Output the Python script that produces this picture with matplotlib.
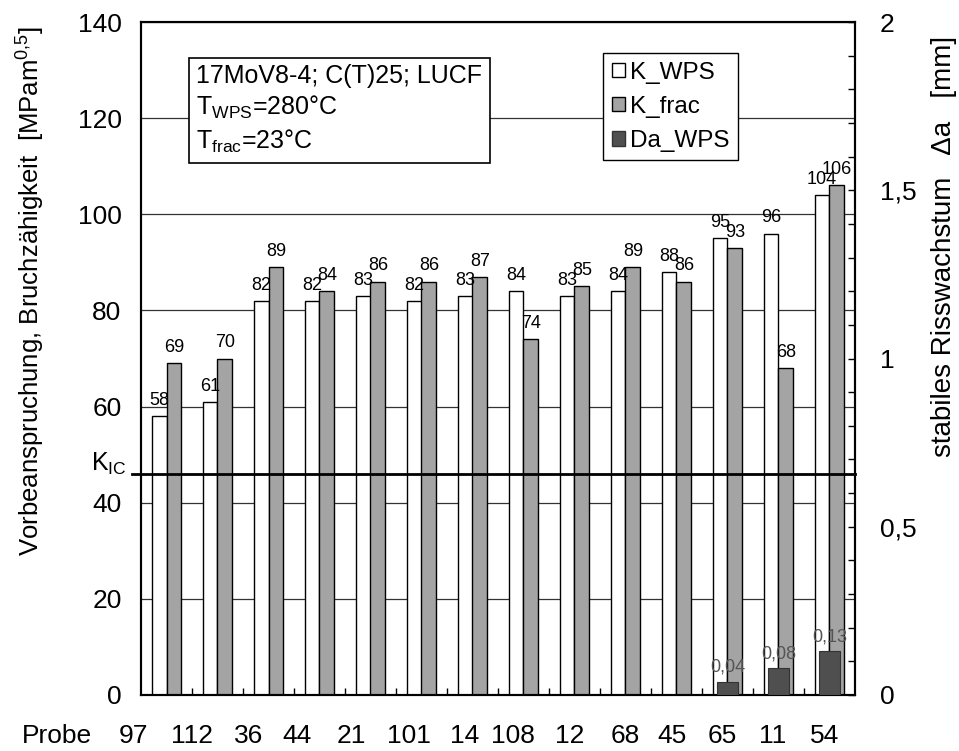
import matplotlib
matplotlib.use("Agg")
import matplotlib.pyplot as plt
import numpy as np
from matplotlib.patches import Patch
from matplotlib.ticker import MultipleLocator, FuncFormatter

plt.rcParams['font.family'] = ['Liberation Sans', 'DejaVu Sans']
plt.rcParams['mathtext.fontset'] = 'custom'
plt.rcParams['mathtext.rm'] = 'Liberation Sans'
plt.rcParams['mathtext.it'] = 'Liberation Sans:italic'
plt.rcParams['mathtext.default'] = 'regular'

# ---------------- data ----------------
probes = ["97", "112", "36", "44", "21", "101", "14", "108", "12", "68", "45", "65", "11", "54"]
k_wps = [58, 61, 82, 82, 83, 82, 83, 84, 83, 84, 88, 95, 96, 104]
k_frac = [69, 70, 89, 84, 86, 86, 87, 74, 85, 89, 86, 93, 68, 106]
da_wps = [0, 0, 0, 0, 0, 0, 0, 0, 0, 0, 0, 0.04, 0.08, 0.13]
k_ic = 46
series_names = ["K_WPS", "K_frac", "Da_WPS"]

# label x positions (pixels) of the hand-set Probe row
probe_label_px = [134, 192, 249, 297, 351, 409, 465, 513, 570, 625, 672, 722, 773, 825]

W, H = 959, 751
fig = plt.figure(figsize=(W / 100, H / 100), dpi=100)
L, R, B, T = 141, 855, 695, 22
ax = fig.add_axes([L / W, 1 - B / H, (R - L) / W, (B - T) / H])
ax2 = ax.twinx()

n = len(probes)
centers = np.arange(n) + 0.5
bw = 0.29
dw = 0.41

c_white = 'white'
c_gray = '#a4a4a4'
c_dark = '#4f4f4f'

ax.set_xlim(0, n)
ax.set_ylim(0, 140)
ax2.set_ylim(0, 2)

# grid
ax.set_yticks(np.arange(0, 141, 20))
ax.yaxis.grid(True, color='#333333', linewidth=0.9)
ax.set_axisbelow(True)

ax.bar(centers - bw / 2, k_wps, width=bw, color=c_white, edgecolor='black', linewidth=1.0, zorder=2)
ax.bar(centers + bw / 2, k_frac, width=bw, color=c_gray, edgecolor='black', linewidth=1.0, zorder=2)

for x, v in zip(centers - bw / 2, k_wps):
    ax.annotate(f"{v}", (x, v), xytext=(0, 8), textcoords='offset points',
                ha='center', va='baseline', fontsize=13, zorder=5)
for x, v in zip(centers + bw / 2, k_frac):
    ax.annotate(f"{v}", (x, v), xytext=(0, 8), textcoords='offset points',
                ha='center', va='baseline', fontsize=13, zorder=5)

# K_IC line
ax.plot([-0.18, n], [k_ic, k_ic], color='black', linewidth=2.0, zorder=4, clip_on=False)
ax.text(-0.02, k_ic - 0.6, "K$_{IC}$", transform=ax.get_yaxis_transform(),
        ha='right', va='bottom', fontsize=18)

# secondary bars
ax2.bar(centers, da_wps, width=dw, color=c_dark, edgecolor='#333333', linewidth=0.8, zorder=3)
for x, v in zip(centers, da_wps):
    if v > 0:
        ax2.annotate(f"{v:.2f}".replace('.', ','), (x, v), xytext=(0, 7), textcoords='offset points',
                     ha='center', va='baseline', fontsize=13, color='#555555')

# axes styling
for a in (ax, ax2):
    for s in a.spines.values():
        s.set_linewidth(1.5)
        s.set_color('black')

ax.set_xticks(np.arange(1, n))
ax.tick_params(axis='x', direction='in', length=5, width=1, labelbottom=False)
ax.tick_params(axis='y', length=0, labelsize=19, pad=14)

ax2.yaxis.set_major_locator(MultipleLocator(0.5))
ax2.yaxis.set_minor_locator(MultipleLocator(0.1))
ax2.yaxis.set_major_formatter(FuncFormatter(lambda v, p: (f"{v:g}").replace('.', ',')))
ax2.tick_params(axis='y', which='both', direction='in', length=5, width=1, labelsize=19, pad=18)

ax.set_ylabel("Vorbeanspruchung, Bruchzähigkeit  [MPam$^{0{,}5}$]", fontsize=18.5)
ax.yaxis.set_label_coords(-0.132, 0.60)
ax2.set_ylabel("stabiles Risswachstum   Δa   [mm]", fontsize=20)
ax2.yaxis.set_label_coords(1.106, 0.666)

# Probe row
fig.text(57 / W, 1 - 743 / H, "Probe", ha='center', va='baseline', fontsize=19)
for px, lab in zip(probe_label_px, probes):
    fig.text(px / W, 1 - 743 / H, lab, ha='center', va='baseline', fontsize=19)

# info box
ax2.text(196 / W, 1 - 64 / H,
         "17MoV8-4; C(T)25; LUCF\nT$_{WPS}$=280°C\nT$_{frac}$=23°C",
         transform=fig.transFigure, ha='left', va='top', fontsize=18, linespacing=1.3,
         bbox=dict(boxstyle='square,pad=0.3', facecolor='white', edgecolor='black', linewidth=1.2),
         zorder=10)

handles = [Patch(facecolor=c_white, edgecolor='black', linewidth=1.0),
           Patch(facecolor=c_gray, edgecolor='black', linewidth=1.0),
           Patch(facecolor=c_dark, edgecolor='#333333', linewidth=1.0)]
leg = ax2.legend(handles, series_names, loc='upper left', bbox_to_anchor=(603 / W, 1 - 53 / H),
                 bbox_transform=fig.transFigure, fontsize=17.5, frameon=True, fancybox=False,
                 framealpha=1, edgecolor='black', handlelength=0.55, handleheight=0.55,
                 handletextpad=0.2, labelspacing=0.5, borderpad=0.35, borderaxespad=0)
leg.get_frame().set_linewidth(1.0)
leg.set_zorder(10)

fig.savefig("out.png", dpi=100, facecolor='white')
